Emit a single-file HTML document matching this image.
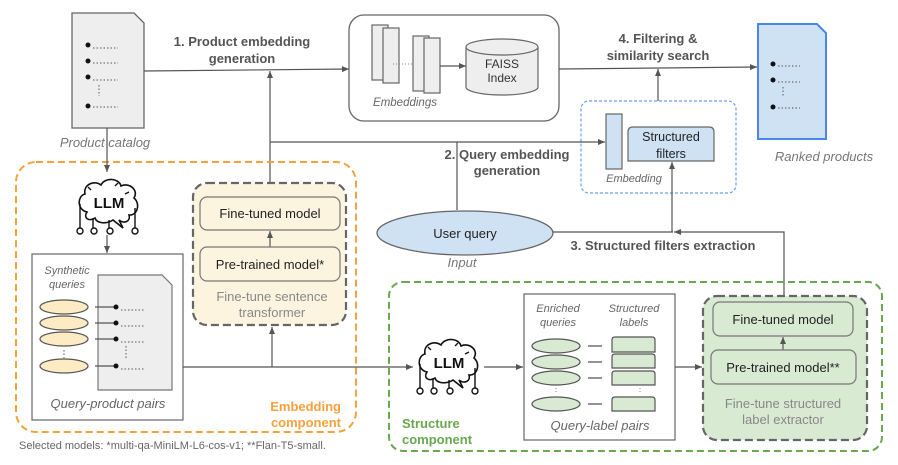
<!DOCTYPE html>
<html><head><meta charset="utf-8"><style>
html,body{margin:0;padding:0;background:#fff;}
svg{display:block;font-family:"Liberation Sans",Arial,sans-serif;}
</style></head><body>
<svg width="898" height="465" viewBox="0 0 898 465" xmlns="http://www.w3.org/2000/svg">
<defs>
<marker id="ar" markerWidth="8" markerHeight="8" refX="7" refY="4" orient="auto" markerUnits="userSpaceOnUse">
<path d="M0,1 L7,4 L0,7 z" fill="#555"/></marker>
<g id="llm">
<path d="M-20,10 C-30,8 -30,-6 -22,-8 C-24,-18 -12,-22 -6,-17 C-2,-25 12,-24 14,-16 C22,-20 32,-12 27,-4 C34,2 30,14 22,13 C24,20 16,22 12,18 L16,26 L6,18 C0,22 -10,22 -12,16 C-18,20 -24,16 -20,10 z" fill="#fff" stroke="#111" stroke-width="1.6"/>
<text x="2" y="6" font-size="15" font-weight="bold" text-anchor="middle" fill="#111">LLM</text>
<path d="M-27,2 L-27,26 M-14,16 L-14,26 M2,18 L2,26 M28,6 L28,26 M-16,-12 l-3,-3 M8,-16 l3,-3 M18,-8 l4,-2" stroke="#111" stroke-width="1.4" fill="none"/>
<circle cx="-27" cy="29" r="3" fill="#fff" stroke="#111" stroke-width="1.4"/>
<circle cx="-13" cy="29" r="3" fill="#fff" stroke="#111" stroke-width="1.4"/>
<circle cx="3" cy="29" r="3" fill="#fff" stroke="#111" stroke-width="1.4"/>
<circle cx="28" cy="29" r="3" fill="#fff" stroke="#111" stroke-width="1.4"/>
</g>
</defs>

<!-- Product catalog -->
<path d="M72,13 L134,13 L144,23 L144,128 L72,128 z" fill="#eeeeee" stroke="#666" stroke-width="1.3"/>
<g fill="#111"><circle cx="88" cy="45" r="2.5"/><circle cx="88" cy="61" r="2.5"/><circle cx="88" cy="77" r="2.5"/><circle cx="88" cy="106" r="2.5"/></g>
<g stroke="#555" stroke-dasharray="1.5,2" stroke-width="1"><path d="M93,48 H118 M93,63 H118 M93,80 H118 M93,107 H118 M99,85 V96"/></g>
<text x="105" y="147" font-size="13" font-style="italic" fill="#777" text-anchor="middle">Product catalog</text>

<line x1="144" y1="71" x2="349" y2="69" stroke="#555" stroke-width="1.2" marker-end="url(#ar)"/>
<text x="242" y="46" font-size="13" font-weight="bold" fill="#555" text-anchor="middle">1. Product embedding</text>
<text x="242" y="63" font-size="13" font-weight="bold" fill="#555" text-anchor="middle">generation</text>

<!-- Embeddings box -->
<rect x="349" y="15" width="210" height="106" rx="15" fill="#fff" stroke="#666" stroke-width="1.3"/>
<g fill="#eeeeee" stroke="#666" stroke-width="1.2">
<rect x="372" y="25" width="16" height="55"/><rect x="383" y="28" width="16" height="55"/>
<rect x="413" y="36" width="16" height="55"/><rect x="424" y="38" width="16" height="55"/></g>
<line x1="393" y1="64" x2="412" y2="64" stroke="#888" stroke-dasharray="1,2"/>
<text x="405" y="106" font-size="11.5" font-style="italic" fill="#666" text-anchor="middle">Embeddings</text>
<line x1="440" y1="66" x2="466" y2="66" stroke="#555" stroke-width="1.2" marker-end="url(#ar)"/>
<path d="M466,47 L466,87 A36,8 0 0 0 538,87 L538,47" fill="#eeeeee" stroke="#666" stroke-width="1.2"/>
<ellipse cx="502" cy="47" rx="36" ry="8" fill="#eeeeee" stroke="#666" stroke-width="1.2"/>
<text x="502" y="68" font-size="12" fill="#333" text-anchor="middle">FAISS</text>
<text x="502" y="82" font-size="12" fill="#333" text-anchor="middle">Index</text>

<line x1="559" y1="69" x2="757" y2="67" stroke="#555" stroke-width="1.2" marker-end="url(#ar)"/>
<text x="658" y="43" font-size="13" font-weight="bold" fill="#555" text-anchor="middle">4. Filtering &amp;</text>
<text x="658" y="60" font-size="13" font-weight="bold" fill="#555" text-anchor="middle">similarity search</text>
<line x1="658" y1="101" x2="658" y2="69" stroke="#555" stroke-width="1.2" marker-end="url(#ar)"/>

<!-- Ranked -->
<path d="M758,24 L817,24 L826,33 L826,139 L758,139 z" fill="#cfe2f3" stroke="#4a86e8" stroke-width="2"/>
<g fill="#111"><circle cx="773" cy="64" r="2.5"/><circle cx="773" cy="80" r="2.5"/><circle cx="773" cy="107" r="2.5"/></g>
<g stroke="#555" stroke-dasharray="1.5,2"><path d="M778,66 H800 M778,82 H800 M778,108 H800 M783,87 V97"/></g>
<text x="824" y="161" font-size="13" font-style="italic" fill="#777" text-anchor="middle">Ranked products</text>

<!-- blue dashed -->
<rect x="581" y="101" width="155" height="92" rx="8" fill="none" stroke="#6d9eeb" stroke-width="1.2" stroke-dasharray="3,2"/>
<rect x="606" y="114" width="16" height="55" fill="#cfe2f3" stroke="#666" stroke-width="1.2"/>
<text x="634" y="182" font-size="11" font-style="italic" fill="#666" text-anchor="middle">Embedding</text>
<path d="M628,161 L628,132 Q628,127 633,127 L709,127 Q714,127 714,132 L714,161 z" fill="#cfe2f3" stroke="#666" stroke-width="1.2"/>
<text x="671" y="141" font-size="12.5" fill="#222" text-anchor="middle">Structured</text>
<text x="671" y="158" font-size="12.5" fill="#222" text-anchor="middle">filters</text>

<!-- connectors -->
<line x1="270" y1="183" x2="270" y2="71" stroke="#555" stroke-width="1.2" marker-end="url(#ar)"/>
<line x1="270" y1="142" x2="605" y2="142" stroke="#555" stroke-width="1.2" marker-end="url(#ar)"/>
<line x1="457" y1="210" x2="457" y2="142" stroke="#555" stroke-width="1.2"/>
<text x="507" y="159" font-size="13" font-weight="bold" fill="#555" text-anchor="middle">2. Query embedding</text>
<text x="507" y="175" font-size="13" font-weight="bold" fill="#555" text-anchor="middle">generation</text>

<ellipse cx="465" cy="233" rx="88" ry="22" fill="#cfe2f3" stroke="#666" stroke-width="1.3"/>
<text x="465" y="238" font-size="13" fill="#222" text-anchor="middle">User query</text>
<text x="462" y="267" font-size="13" font-style="italic" fill="#777" text-anchor="middle">Input</text>
<line x1="553" y1="232" x2="673" y2="232" stroke="#555" stroke-width="1.2"/>
<path d="M784,297 L784,232 L674,232" fill="none" stroke="#555" stroke-width="1.2" marker-end="url(#ar)"/>
<line x1="672" y1="232" x2="672" y2="162" stroke="#555" stroke-width="1.2" marker-end="url(#ar)"/>
<text x="663" y="250" font-size="13" font-weight="bold" fill="#555" text-anchor="middle">3. Structured filters extraction</text>

<!-- Embedding component -->
<rect x="16" y="162" width="340" height="270" rx="20" fill="none" stroke="#f6a23c" stroke-width="2" stroke-dasharray="7,4"/>
<text x="341" y="411" font-size="13" font-weight="bold" fill="#f6a23c" text-anchor="end">Embedding</text>
<text x="341" y="427" font-size="13" font-weight="bold" fill="#f6a23c" text-anchor="end">component</text>
<line x1="107" y1="128" x2="107" y2="172" stroke="#555" stroke-width="1.2" marker-end="url(#ar)"/>
<use href="#llm" x="107" y="202"/>
<line x1="107" y1="235" x2="107" y2="253" stroke="#555" stroke-width="1.2" marker-end="url(#ar)"/>

<rect x="32" y="254" width="151" height="166" fill="#fff" stroke="#666" stroke-width="1.2"/>
<text x="67" y="274" font-size="11" font-style="italic" fill="#666" text-anchor="middle">Synthetic</text>
<text x="67" y="288" font-size="11" font-style="italic" fill="#666" text-anchor="middle">queries</text>
<path d="M98,275 L162,275 L172,285 L172,390 L98,390 z" fill="#eeeeee" stroke="#777" stroke-width="1.2"/>
<g fill="#fdebc3" stroke="#555" stroke-width="1.2">
<ellipse cx="64" cy="307" rx="24" ry="7"/><ellipse cx="64" cy="323" rx="24" ry="7"/>
<ellipse cx="64" cy="339" rx="24" ry="7"/><ellipse cx="64" cy="366" rx="24" ry="7"/></g>
<path d="M95,307 H114 M95,323 H114 M95,339 H114 M95,366 H114" stroke="#555" stroke-width="1.2"/>
<g fill="#111"><circle cx="116" cy="307" r="2.5"/><circle cx="116" cy="323" r="2.5"/><circle cx="116" cy="339" r="2.5"/><circle cx="116" cy="366" r="2.5"/></g>
<g stroke="#555" stroke-dasharray="1.5,2"><path d="M121,310 H144 M121,326 H144 M121,342 H144 M121,369 H144 M126,346 V358 M64,350 V358"/></g>
<text x="108" y="408" font-size="13" font-style="italic" fill="#666" text-anchor="middle">Query-product pairs</text>
<line x1="183" y1="367" x2="413" y2="367" stroke="#555" stroke-width="1.2" marker-end="url(#ar)"/>
<line x1="272" y1="367" x2="272" y2="327" stroke="#555" stroke-width="1.2" marker-end="url(#ar)"/>

<rect x="193" y="183" width="153" height="142" rx="14" fill="#fdf4e0" stroke="#666" stroke-width="2.2" stroke-dasharray="8,4"/>
<rect x="200" y="197" width="140" height="33" rx="7" fill="#fdf4e0" stroke="#777" stroke-width="1.2"/>
<text x="270" y="218" font-size="13" fill="#222" text-anchor="middle">Fine-tuned model</text>
<line x1="270" y1="247" x2="270" y2="231" stroke="#555" stroke-width="1.2" marker-end="url(#ar)"/>
<rect x="200" y="247" width="140" height="34" rx="7" fill="#fdf4e0" stroke="#777" stroke-width="1.2"/>
<text x="270" y="269" font-size="13" fill="#222" text-anchor="middle">Pre-trained model*</text>
<text x="272" y="301" font-size="13" fill="#888" text-anchor="middle">Fine-tune sentence</text>
<text x="272" y="317" font-size="13" fill="#888" text-anchor="middle">transformer</text>

<!-- Structure component -->
<rect x="389" y="282" width="493" height="169" rx="14" fill="none" stroke="#6aa84f" stroke-width="2" stroke-dasharray="7,4"/>
<text x="402" y="428" font-size="13" font-weight="bold" fill="#6aa84f">Structure</text>
<text x="402" y="444" font-size="13" font-weight="bold" fill="#6aa84f">component</text>
<use href="#llm" x="447" y="362"/>
<line x1="484" y1="367" x2="523" y2="367" stroke="#555" stroke-width="1.2" marker-end="url(#ar)"/>

<rect x="524" y="294" width="151" height="146" fill="#fff" stroke="#666" stroke-width="1.2"/>
<text x="558" y="312" font-size="11" font-style="italic" fill="#666" text-anchor="middle">Enriched</text>
<text x="558" y="326" font-size="11" font-style="italic" fill="#666" text-anchor="middle">queries</text>
<text x="634" y="312" font-size="11" font-style="italic" fill="#666" text-anchor="middle">Structured</text>
<text x="634" y="326" font-size="11" font-style="italic" fill="#666" text-anchor="middle">labels</text>
<g fill="#d9ead3" stroke="#555" stroke-width="1.2">
<ellipse cx="556" cy="346" rx="24" ry="7"/><ellipse cx="556" cy="362" rx="24" ry="7"/>
<ellipse cx="556" cy="378" rx="24" ry="7"/><ellipse cx="556" cy="404" rx="24" ry="7"/>
<path d="M612,352 V340 Q612,337 615,337 H652 Q655,337 655,340 V352 z"/>
<path d="M612,368 V357 Q612,354 615,354 H652 Q655,354 655,357 V368 z"/>
<path d="M612,385 V374 Q612,371 615,371 H652 Q655,371 655,374 V385 z"/>
<path d="M612,411 V400 Q612,397 615,397 H652 Q655,397 655,400 V411 z"/></g>
<path d="M588,346 H602 M588,362 H602 M588,378 H602 M588,404 H602" stroke="#555" stroke-width="1.2"/>
<path d="M556,388 V394 M640,388 V394" stroke="#888" stroke-dasharray="1,2"/>
<text x="600" y="430" font-size="13" font-style="italic" fill="#666" text-anchor="middle">Query-label pairs</text>
<line x1="675" y1="367" x2="702" y2="367" stroke="#555" stroke-width="1.2" marker-end="url(#ar)"/>

<rect x="703" y="296" width="164" height="144" rx="14" fill="#d9ead3" stroke="#666" stroke-width="2.2" stroke-dasharray="8,4"/>
<rect x="713" y="302" width="140" height="34" rx="7" fill="#d9ead3" stroke="#777" stroke-width="1.2"/>
<text x="783" y="324" font-size="13" fill="#222" text-anchor="middle">Fine-tuned model</text>
<line x1="783" y1="350" x2="783" y2="337" stroke="#555" stroke-width="1.2" marker-end="url(#ar)"/>
<rect x="711" y="350" width="145" height="34" rx="7" fill="#d9ead3" stroke="#777" stroke-width="1.2"/>
<text x="783" y="372" font-size="13" fill="#222" text-anchor="middle">Pre-trained model**</text>
<text x="783" y="408" font-size="13" fill="#888" text-anchor="middle">Fine-tune structured</text>
<text x="783" y="424" font-size="13" fill="#888" text-anchor="middle">label extractor</text>

<text x="19" y="449" font-size="11" fill="#666">Selected models: *multi-qa-MiniLM-L6-cos-v1; **Flan-T5-small.</text>
</svg>
</body></html>
